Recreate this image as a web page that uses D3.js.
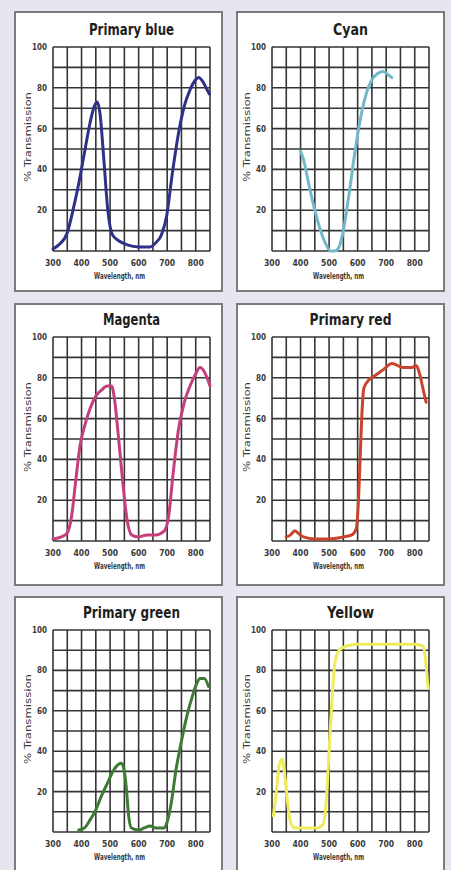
<!DOCTYPE html>
<html><head><meta charset="utf-8">
<script src="https://cdn.jsdelivr.net/npm/d3@7"></script>
<style>
html,body{margin:0;padding:0;background:#e6e6f0;}
svg{display:block;}
</style></head><body>
<svg id="c" width="451" height="870"></svg>
<script>
// ---- data ----
const titles = ["Primary blue", "Cyan", "Magenta", "Primary red", "Primary green", "Yellow"];
const lineColors = ["#2f3188", "#72b8c8", "#c43f7c", "#c9442c", "#3e7b34", "#efeb5c"];
const xTickLabels = [300, 400, 500, 600, 700, 800];
const yTickLabels = [20, 40, 60, 80, 100];
const xGridNm = [300, 350, 400, 450, 500, 550, 600, 650, 700, 750, 800, 850];
const yGridPct = [0, 10, 20, 30, 40, 50, 60, 70, 80, 90, 100];

const primaryBlue = [[300,1],[320,3],[350,9],[370,20],[390,33],[410,48],[430,63],[445,71],[455,73],[465,67],[478,45],[492,20],[508,8],[530,5],[560,3],[600,2],[640,2],[660,4],[680,8],[698,17],[718,38],[740,58],[760,71],[780,79],[800,84],[810,85],[825,83],[840,79],[848,77]];
const cyan = [[400,49],[410,45],[430,32],[450,20],[470,10],[490,3],[505,0],[520,0],[535,2],[550,10],[570,28],[590,48],[610,65],[630,77],[650,84],[670,87],[690,88],[710,86],[720,85]];
const magenta = [[300,1],[330,2],[350,4],[365,12],[380,30],[395,47],[410,56],[430,65],[450,71],[470,74],[490,76],[505,76],[515,70],[530,50],[545,28],[560,10],[575,3],[600,2],[630,3],[660,3],[690,5],[705,12],[720,32],[740,55],[760,68],[780,76],[800,82],[815,85],[830,83],[845,78],[850,76]];
const primaryRed = [[350,2],[365,3],[380,5],[390,4],[410,2],[450,1],[500,1],[550,2],[580,3],[595,6],[603,20],[610,45],[616,65],[622,75],[640,79],[660,81],[690,84],[720,87],[740,86],[760,85],[790,85],[805,86],[815,83],[830,74],[840,68]];
const primaryGreen = [[390,1],[410,2],[430,6],[450,11],[470,18],[490,24],[510,30],[525,33],[540,34],[550,30],[558,20],[565,8],[575,2],[600,1],[620,2],[640,3],[660,2],[690,2],[700,5],[715,15],[730,30],[750,45],[770,58],[790,68],[805,74],[815,76],[830,76],[845,72]];
const yellow = [[305,8],[315,20],[325,33],[335,36],[345,28],[355,14],[365,5],[380,2],[420,2],[460,2],[480,4],[490,15],[500,40],[510,65],[520,83],[535,90],[560,92],[600,93],[700,93],[800,93],[830,92],[838,85],[845,74],[848,71]];
const seriesList = [primaryBlue, cyan, magenta, primaryRed, primaryGreen, yellow];

// ---- layout ----
const FONT = "'Liberation Sans Narrow','DejaVu Sans Condensed','Arial Narrow',sans-serif";
const boxX = [15, 237], boxW = 207;
const boxY = [12, 304, 597], boxH = [279, 281, 300];
const plotX = [53, 272], plotW = 157;
const plotY = [47, 337, 630], plotH = [204, 204, 202];
const titleW = [85, 35, 57, 82, 97, 47];

const svg = d3.select("#c");
svg.append("rect").attr("width",451).attr("height",870).attr("fill","#e6e6f0");

seriesList.forEach((data, i) => {
  const col = i % 2, row = Math.floor(i / 2);
  // panel box
  svg.append("rect")
    .attr("x", boxX[col]).attr("y", boxY[row])
    .attr("width", boxW).attr("height", boxH[row])
    .attr("fill", "#fff").attr("stroke", "#7b7b7b").attr("stroke-width", 2);

  const x = d3.scaleLinear().domain([300, 850]).range([plotX[col], plotX[col] + plotW]);
  const y = d3.scaleLinear().domain([0, 100]).range([plotY[row] + plotH[row], plotY[row]]);
  const g = svg.append("g");

  // grid
  g.selectAll(".vg").data(xGridNm).join("line")
    .attr("x1", d => x(d)).attr("x2", d => x(d))
    .attr("y1", y(0)).attr("y2", y(100))
    .attr("stroke", "#353535").attr("stroke-width", 1.6);
  g.selectAll(".hg").data(yGridPct).join("line")
    .attr("y1", d => y(d)).attr("y2", d => y(d))
    .attr("x1", x(300)).attr("x2", x(850))
    .attr("stroke", "#353535").attr("stroke-width", 1.6);

  // tick labels
  g.selectAll(".xl").data(xTickLabels).join("text")
    .attr("x", d => x(d)).attr("y", y(0) + 15)
    .attr("text-anchor", "middle")
    .attr("font-family", FONT).attr("font-weight", "bold")
    .attr("font-size", 8.5).attr("fill", "#3a3a3a")
    .text(d => d);
  g.selectAll(".yl").data(yTickLabels).join("text")
    .attr("x", x(300) - 6).attr("y", d => y(d) + 3)
    .attr("text-anchor", "end")
    .attr("font-family", FONT).attr("font-weight", "bold")
    .attr("font-size", 8).attr("fill", "#3a3a3a")
    .text(d => d);

  // axis titles
  g.append("text")
    .attr("x", x(300) + plotW / 2 - 12).attr("y", y(0) + 28)
    .attr("text-anchor", "middle")
    .attr("font-family", FONT).attr("font-weight", "bold")
    .attr("font-size", 8).attr("fill", "#3a3a3a")
    .attr("textLength", 51).attr("lengthAdjust", "spacingAndGlyphs")
    .text("Wavelength, nm");
  const cy = (y(0) + y(100)) / 2 - 12;
  g.append("text")
    .attr("transform", `translate(${x(300) - 22},${cy}) rotate(-90)`)
    .attr("text-anchor", "middle")
    .attr("font-family", FONT)
    .attr("font-size", 8).attr("fill", "#3a3a3a")
    .attr("textLength", 90).attr("lengthAdjust", "spacingAndGlyphs")
    .text("% Transmission");

  // title
  g.append("text")
    .attr("x", x(300) + plotW / 2).attr("y", y(100) - 12)
    .attr("text-anchor", "middle")
    .attr("font-family", FONT).attr("font-weight", "bold")
    .attr("font-size", 15).attr("fill", "#1e1e1e")
    .attr("textLength", titleW[i]).attr("lengthAdjust", "spacingAndGlyphs")
    .text(titles[i]);

  // curve
  const line = d3.line().x(d => x(d[0])).y(d => y(d[1])).curve(d3.curveMonotoneX);
  g.append("path").datum(data)
    .attr("d", line)
    .attr("fill", "none")
    .attr("stroke", lineColors[i])
    .attr("stroke-width", 3)
    .attr("stroke-linejoin", "round").attr("stroke-linecap", "round");
});
</script>
</body></html>
